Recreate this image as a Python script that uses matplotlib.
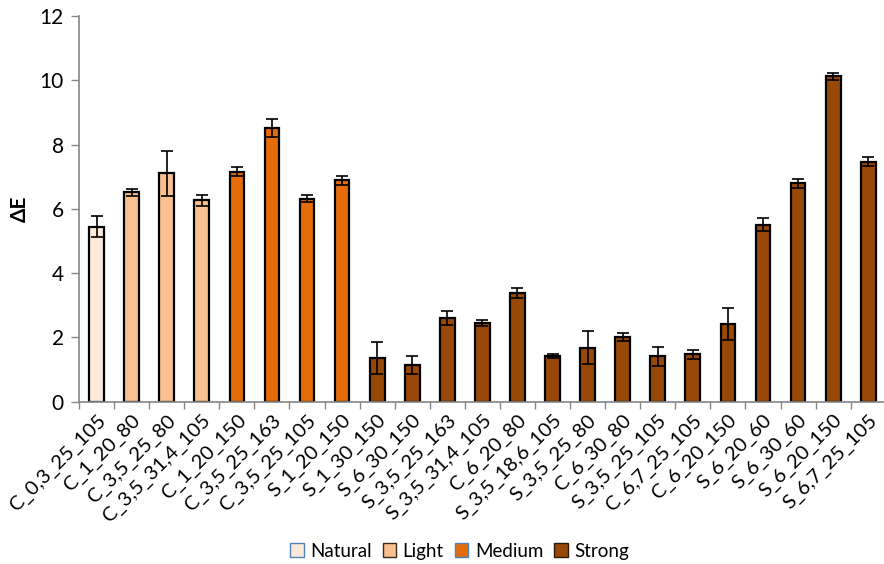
import numpy as np
import matplotlib
matplotlib.use("Agg")
import matplotlib.pyplot as plt
from matplotlib.patches import Patch

plt.rcParams['font.family'] = ['Lato', 'DejaVu Sans']

# Данные
samples = ["C_0,3_25_105", "C_1_20_80", "C_3,5_25_80", "C_3,5_31,4_105",
           "C_1_20_150", "C_3,5_25_163", "C_3,5_25_105", "S_1_20_150",
           "S_1_30_150", "S_6_30_150", "S_3,5_25_163", "S_3,5_31,4_105",
           "C_6_20_80", "S_3,5_18,6_105", "S_3,5_25_80", "C_6_30_80",
           "S_3,5_25_105", "C_6,7_25_105", "C_6_20_150", "S_6_20_60",
           "S_6_30_60", "S_6_20_150", "S_6,7_25_105"]
delta_e = [5.45, 6.51, 7.10, 6.26, 7.16, 8.52, 6.32, 6.89,
           1.36, 1.14, 2.60, 2.45, 3.39, 1.42, 1.68, 2.02,
           1.41, 1.47, 2.41, 5.51, 6.79, 10.12, 7.47]
errors = [0.34, 0.10, 0.69, 0.18, 0.13, 0.29, 0.10, 0.14,
          0.49, 0.29, 0.22, 0.10, 0.16, 0.07, 0.51, 0.13,
          0.30, 0.15, 0.50, 0.19, 0.14, 0.10, 0.14]
groups = ["Natural"] + ["Light"] * 3 + ["Medium"] * 4 + ["Strong"] * 15

# Цвета групп
colors = {"Natural": "#FDE9D9", "Light": "#FAC090",
          "Medium": "#E46C0A", "Strong": "#984807"}
legend_edges = {"Natural": "#4F81BD", "Light": "#3a2a1a",
                "Medium": "#4F81BD", "Strong": "#2a1a0a"}

fig = plt.figure(figsize=(8.84, 5.64), dpi=100)
ax = fig.add_axes([0.0894, 0.2878, 0.9126, 0.6838])

x = np.arange(len(samples))
ax.bar(x, delta_e, width=0.42, color=[colors[g] for g in groups],
       edgecolor="black", linewidth=1.6, zorder=2)
ax.errorbar(x, delta_e, yerr=errors, fmt="none", ecolor="black",
            elinewidth=1.2, capsize=4, capthick=1.2, zorder=3)

ax.set_xlim(-0.5, len(samples) - 0.5)
ax.set_ylim(0, 12)
ax.set_yticks(range(0, 13, 2))
ax.set_xticks(x)
ax.set_xticklabels(samples, rotation=45, ha="right", rotation_mode="anchor",
                   fontsize=14.5)
ax.set_xticks(np.arange(-0.5, len(samples)), minor=True)
ax.tick_params(axis="x", which="major", length=0, pad=7)
ax.tick_params(axis="x", which="minor", length=5, color="#868686", width=1)
ax.tick_params(axis="y", length=6, color="#868686", width=1, labelsize=15,
               pad=5)

for side in ["top", "right"]:
    ax.spines[side].set_visible(False)
for side in ["left", "bottom"]:
    ax.spines[side].set_color("#868686")
    ax.spines[side].set_linewidth(1.2)

ax.set_ylabel("ΔE", fontsize=15, fontweight="bold", labelpad=7)

handles = [Patch(facecolor=colors[g], edgecolor=legend_edges[g], linewidth=1,
                 label=g) for g in colors]
fig.legend(handles=handles, loc="lower center", bbox_to_anchor=(0.52, -0.022),
           ncol=4, frameon=False, fontsize=13.5, handlelength=0.7,
           handleheight=0.7, handletextpad=0.35, columnspacing=0.6)

fig.savefig("out.png", dpi=100)
